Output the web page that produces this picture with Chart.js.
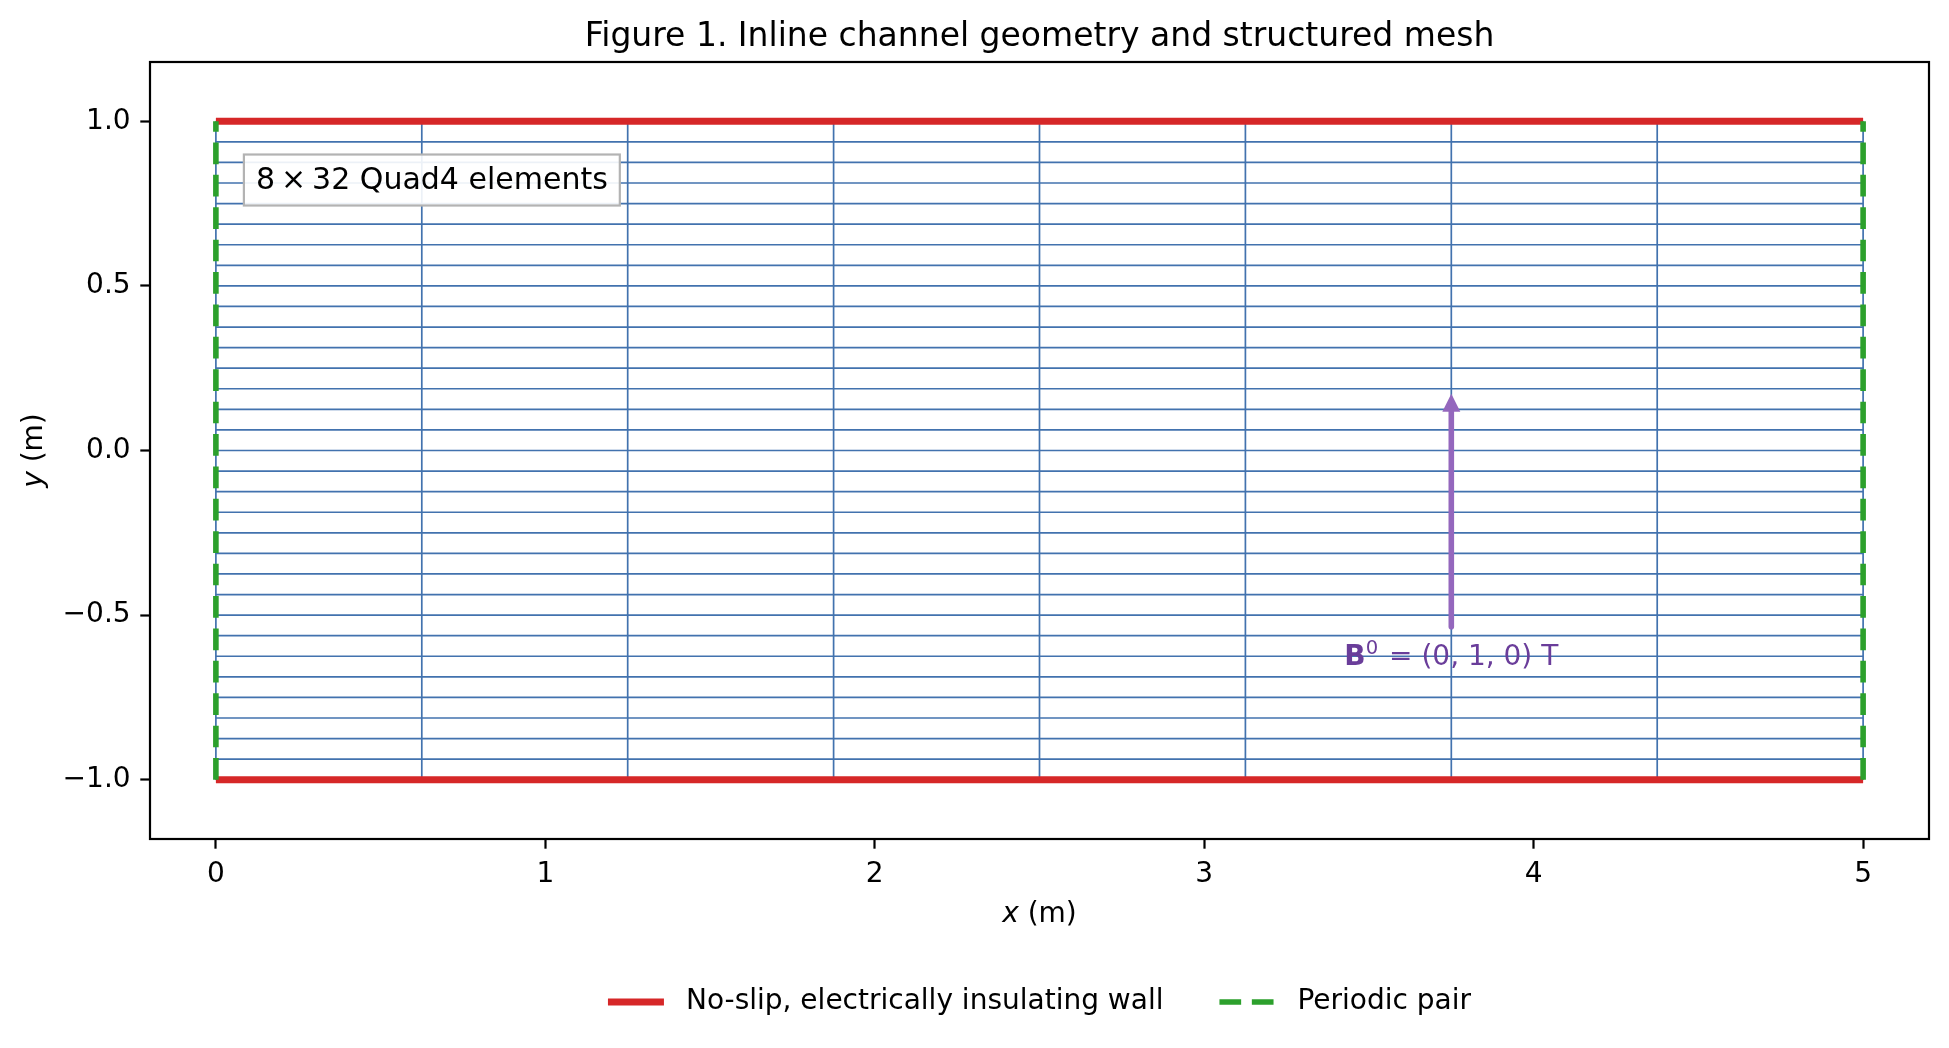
<!DOCTYPE html>
<html>
<head>
<meta charset="utf-8">
<script src="https://cdn.jsdelivr.net/npm/chart.js@4.4.1/dist/chart.umd.min.js"></script>
<style>
html, body { margin: 0; padding: 0; background: #fff; }
canvas { display: block; }
</style>
</head>
<body>
<canvas id="meshChart" width="1949" height="1048"></canvas>
<script>
// mesh node lines (8 x 32 Quad4)
const meshX = [0, 0.625, 1.25, 1.875, 2.5, 3.125, 3.75, 4.375, 5];
const meshY = [-1, -0.9375, -0.875, -0.8125, -0.75, -0.6875, -0.625, -0.5625, -0.5, -0.4375, -0.375,
    -0.3125, -0.25, -0.1875, -0.125, -0.0625, 0, 0.0625, 0.125, 0.1875, 0.25, 0.3125, 0.375, 0.4375,
    0.5, 0.5625, 0.625, 0.6875, 0.75, 0.8125, 0.875, 0.9375, 1];
const channelX = [0, 5];
const channelY = [-1, 1];
const wallY = [-1, 1];
const periodicX = [0, 5];
const fieldArrowX = [3.75, 3.75];
const fieldArrowY = [-0.535, 0.172];
const xTicks = [0, 1, 2, 3, 4, 5];
const xTickLabels = ['0', '1', '2', '3', '4', '5'];
const yTicks = [-1, -0.5, 0, 0.5, 1];
const yTickLabels = ['\u22121.0', '\u22120.5', '0.0', '0.5', '1.0'];
const legendLabels = ['No-slip, electrically insulating wall', 'Periodic pair'];

const FONT = '"DejaVu Sans"';
const meshColor = '#4272ae';
const wallColor = '#d62728';
const periodicColor = '#2ca02c';
const fieldColor = '#9467bd';

const datasets = [];
meshX.forEach(x => {
    datasets.push({
        data: [{ x: x, y: channelY[0] }, { x: x, y: channelY[1] }],
        borderColor: meshColor, borderWidth: 1.7, order: 3
    });
});
meshY.forEach(y => {
    datasets.push({
        data: [{ x: channelX[0], y: y }, { x: channelX[1], y: y }],
        borderColor: meshColor, borderWidth: 1.7, order: 3
    });
});
wallY.forEach(y => {
    datasets.push({
        data: [{ x: channelX[0], y: y }, { x: channelX[1], y: y }],
        borderColor: wallColor, borderWidth: 6.9, order: 1
    });
});
periodicX.forEach(x => {
    datasets.push({
        data: [{ x: x, y: channelY[0] }, { x: x, y: channelY[1] }],
        borderColor: periodicColor, borderWidth: 5.6, borderDash: [21.7, 10.7], order: 0
    });
});
datasets.forEach(d => { d.showLine = true; d.pointRadius = 0; d.fill = false; });

const overlay = {
    id: 'overlay',
    beforeDraw(chart) {
        const ctx = chart.ctx;
        ctx.save();
        ctx.fillStyle = '#fff';
        ctx.fillRect(0, 0, chart.width, chart.height);
        ctx.restore();
    },
    afterDatasetsDraw(chart) {
        const { ctx, scales: { x, y } } = chart;
        ctx.save();

        // element count box
        const bx = x.getPixelForValue(0.085);
        const by = y.getPixelForValue(0.899);
        ctx.font = '30px ' + FONT;
        const label = '8\u2009\u00d7\u200932 Quad4 elements';
        const tw = ctx.measureText(label).width;
        const bw = tw + 24, bh = 51;
        ctx.fillStyle = 'rgba(255,255,255,0.9)';
        ctx.fillRect(bx, by, bw, bh);
        ctx.strokeStyle = '#b3b3b3';
        ctx.lineWidth = 2.2;
        ctx.strokeRect(bx, by, bw, bh);
        ctx.fillStyle = '#000';
        ctx.textBaseline = 'middle';
        ctx.textAlign = 'left';
        ctx.fillText(label, bx + 12, by + bh / 2 + 1);

        // applied field arrow
        const ax = x.getPixelForValue(fieldArrowX[0]);
        const yTail = y.getPixelForValue(fieldArrowY[0]);
        const yTip = y.getPixelForValue(fieldArrowY[1]);
        const headLen = 18, headW = 18;
        ctx.strokeStyle = fieldColor;
        ctx.fillStyle = fieldColor;
        ctx.lineWidth = 5.6;
        ctx.lineCap = 'round';
        ctx.beginPath();
        ctx.moveTo(ax, yTail);
        ctx.lineTo(ax, yTip + headLen - 2);
        ctx.stroke();
        ctx.beginPath();
        ctx.moveTo(ax, yTip);
        ctx.lineTo(ax - headW / 2, yTip + headLen);
        ctx.lineTo(ax + headW / 2, yTip + headLen);
        ctx.closePath();
        ctx.fill();

        // B0 label
        const base = y.getPixelForValue(-0.653);
        const parts = [
            { t: 'B', f: 'bold 28px ' + FONT, dy: 0 },
            { t: '0', f: '19.6px ' + FONT, dy: -11 },
            { t: ' = (0, 1, 0) T', f: '28px ' + FONT, dy: 0 }
        ];
        let total = 0;
        parts.forEach(p => { ctx.font = p.f; p.w = ctx.measureText(p.t).width; total += p.w; });
        total += 2;
        let cx = ax - total / 2;
        ctx.fillStyle = '#6a3d9a';
        ctx.textBaseline = 'alphabetic';
        parts.forEach((p, i) => {
            ctx.font = p.f;
            ctx.fillText(p.t, cx, base + p.dy);
            cx += p.w + (i === 1 ? 2 : 0);
        });
        ctx.restore();
    },
    afterDraw(chart) {
        const { ctx, chartArea: a } = chart;
        ctx.save();
        // axes frame
        ctx.strokeStyle = '#000';
        ctx.lineWidth = 2.2;
        ctx.strokeRect(a.left, a.top, a.right - a.left, a.bottom - a.top);

        const midX = (a.left + a.right) / 2;
        ctx.fillStyle = '#000';
        ctx.textBaseline = 'middle';

        // title
        ctx.font = '33px ' + FONT;
        ctx.textAlign = 'center';
        ctx.fillText('Figure 1. Inline channel geometry and structured mesh', midX, 37);

        // x axis label
        const drawMixed = (italic, rest, cx, cy) => {
            ctx.font = 'italic 28px ' + FONT;
            const w1 = ctx.measureText(italic).width;
            ctx.font = '28px ' + FONT;
            const w2 = ctx.measureText(rest).width;
            const start = cx - (w1 + w2) / 2;
            ctx.textAlign = 'left';
            ctx.font = 'italic 28px ' + FONT;
            ctx.fillText(italic, start, cy);
            ctx.font = '28px ' + FONT;
            ctx.fillText(rest, start + w1, cy);
        };
        drawMixed('x', ' (m)', midX, 915);
        ctx.save();
        ctx.translate(35, (a.top + a.bottom) / 2);
        ctx.rotate(-Math.PI / 2);
        drawMixed('y', ' (m)', 0, 0);
        ctx.restore();

        // legend
        ctx.font = '28px ' + FONT;
        const handle = 56, pad = 22, gap = 56;
        const w0 = ctx.measureText(legendLabels[0]).width;
        const w1 = ctx.measureText(legendLabels[1]).width;
        const totalW = handle + pad + w0 + gap + handle + pad + w1;
        let lx = midX - totalW / 2;
        const ly = 1002;
        ctx.lineCap = 'butt';
        ctx.strokeStyle = wallColor;
        ctx.lineWidth = 6.9;
        ctx.beginPath(); ctx.moveTo(lx, ly); ctx.lineTo(lx + handle, ly); ctx.stroke();
        ctx.textAlign = 'left';
        ctx.fillText(legendLabels[0], lx + handle + pad, ly);
        lx += handle + pad + w0 + gap;
        ctx.strokeStyle = periodicColor;
        ctx.lineWidth = 5.6;
        ctx.setLineDash([21.7, 10.7]);
        ctx.beginPath(); ctx.moveTo(lx, ly); ctx.lineTo(lx + handle, ly); ctx.stroke();
        ctx.setLineDash([]);
        ctx.fillText(legendLabels[1], lx + handle + pad, ly);
        ctx.restore();
    }
};

const tickGrid = {
    drawOnChartArea: false,
    drawTicks: true,
    tickLength: 9.7,
    tickWidth: 2.2,
    tickColor: '#000'
};

new Chart(document.getElementById('meshChart'), {
    type: 'scatter',
    data: { datasets: datasets },
    plugins: [overlay],
    options: {
        responsive: false,
        animation: false,
        devicePixelRatio: 1,
        layout: { padding: { top: 62, right: 20, left: 0, bottom: 0 } },
        plugins: {
            legend: { display: false },
            title: { display: false },
            tooltip: { enabled: false }
        },
        scales: {
            x: {
                type: 'linear',
                min: -0.2,
                max: 5.2,
                afterBuildTicks: s => { s.ticks = xTicks.map(v => ({ value: v })); },
                afterFit: s => { s.height = 209; },
                ticks: {
                    callback: (v, i) => xTickLabels[i],
                    font: { family: FONT, size: 28 },
                    color: '#000',
                    padding: 9.7,
                    maxRotation: 0,
                    autoSkip: false
                },
                grid: tickGrid,
                border: { display: false }
            },
            y: {
                type: 'linear',
                min: -1.18,
                max: 1.18,
                afterBuildTicks: s => { s.ticks = yTicks.map(v => ({ value: v })); },
                afterFit: s => { s.width = 150; },
                ticks: {
                    callback: (v, i) => yTickLabels[i],
                    font: { family: FONT, size: 28 },
                    color: '#000',
                    padding: 9.7,
                    autoSkip: false
                },
                grid: tickGrid,
                border: { display: false }
            }
        }
    }
});
</script>
</body>
</html>
